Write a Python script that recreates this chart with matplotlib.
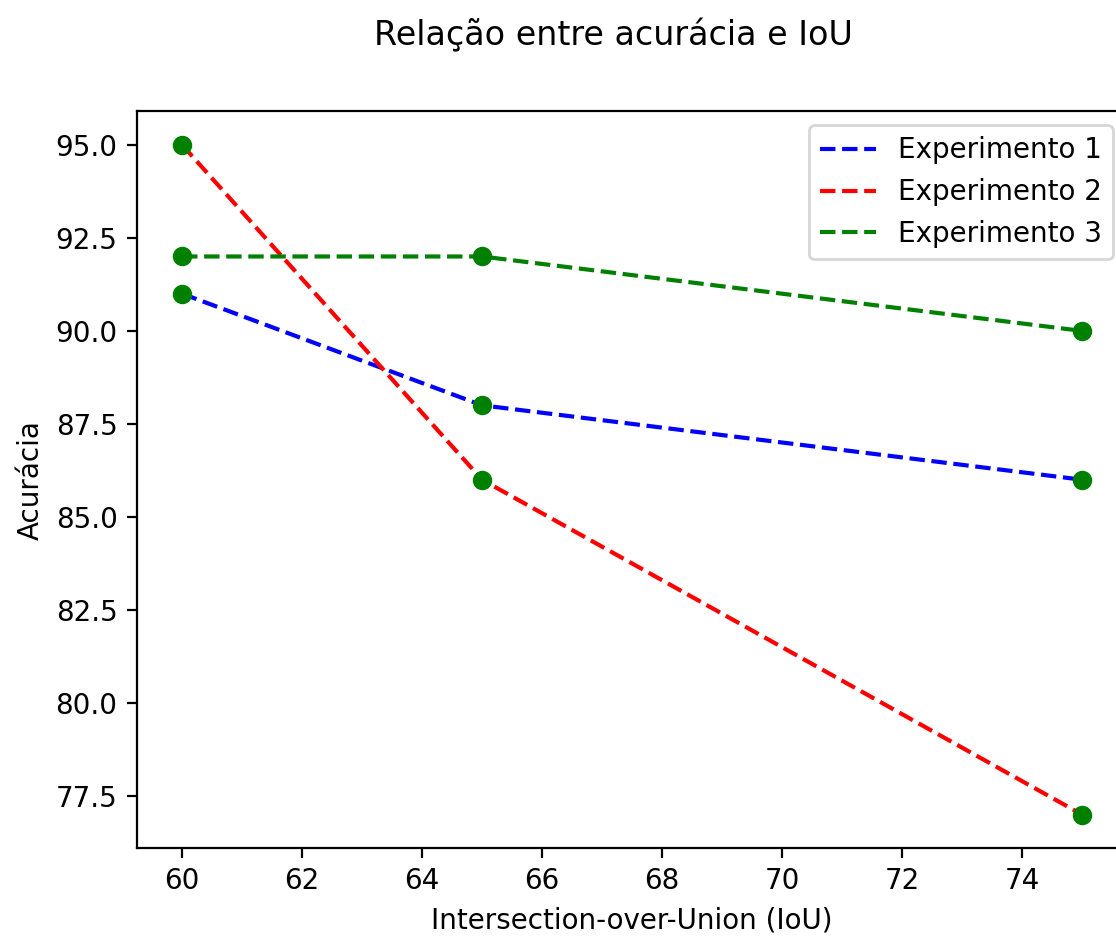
import numpy as np
import matplotlib.pyplot as plt

# dados
iou = [60, 65, 75]
exp1 = [91, 88, 86]
exp2 = [95, 86, 77]
exp3 = [92, 92, 90]

fig = plt.figure(figsize=(5.58, 4.68), dpi=200)
# o eixo passa da borda direita (imagem original recortada)
ax = fig.add_axes([0.1228, 0.094, 0.887, 0.787])

ax.plot(iou, exp1, '--', color='blue', label='Experimento 1')
ax.plot(iou, exp2, '--', color='red', label='Experimento 2')
ax.plot(iou, exp3, '--', color='green', label='Experimento 3')
for serie in (exp1, exp2, exp3):
    ax.scatter(iou, serie, color='green', zorder=3)

ax.set_xticks(np.arange(60, 75, 2))
ax.set_xlabel('Intersection-over-Union (IoU)')
ax.set_ylabel('Acurácia')
ax.legend(loc='upper right')
fig.suptitle('Relação entre acurácia e IoU', x=0.55, y=0.98)

fig.savefig('out.png', dpi=200)
